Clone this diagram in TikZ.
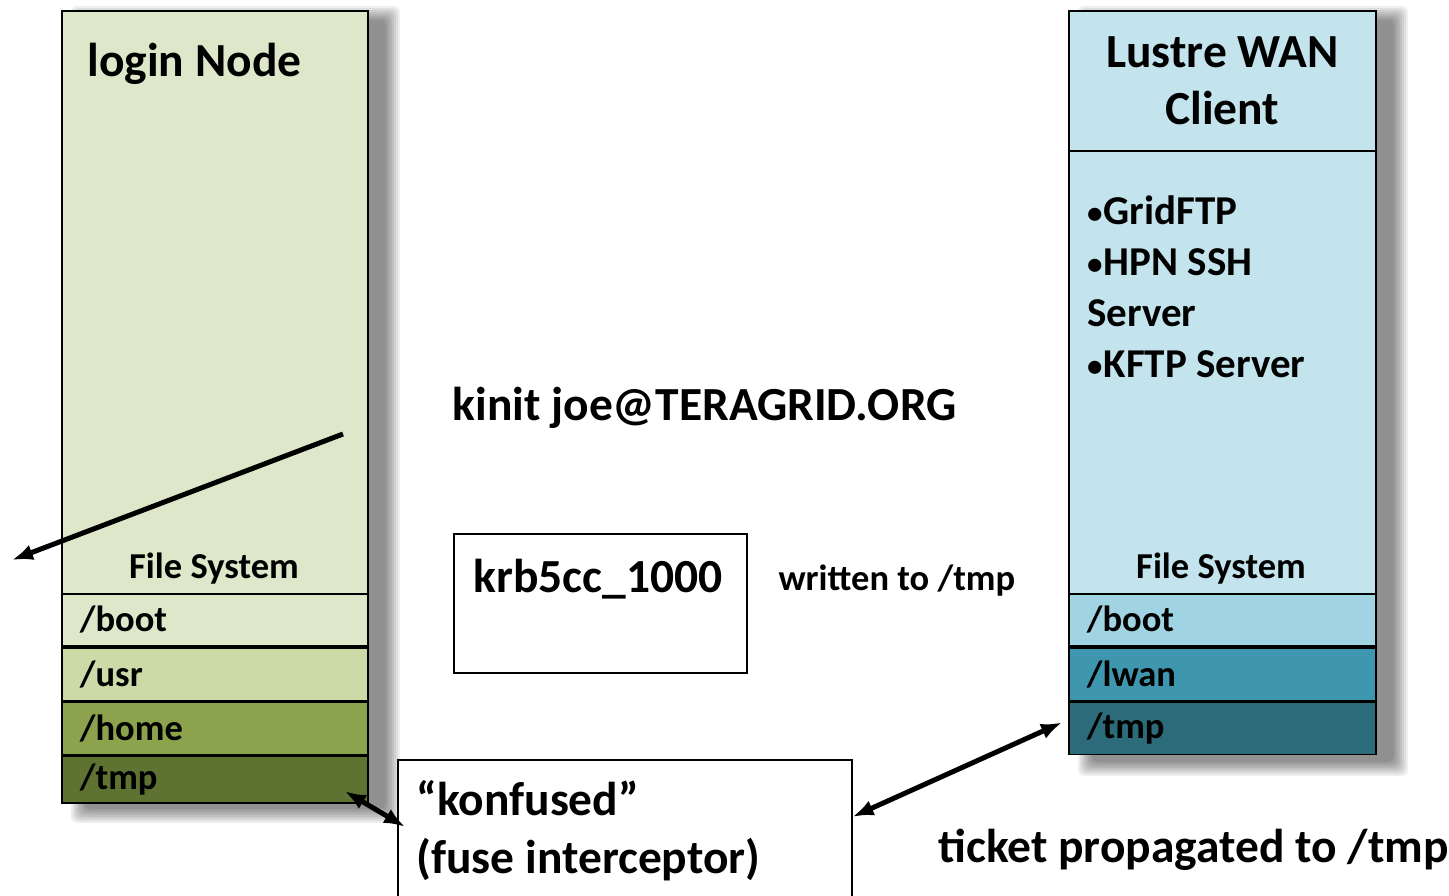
\documentclass[tikz,border=0pt]{standalone}
\usepackage{fontspec}
\setmainfont{Carlito}
\usetikzlibrary{positioning,arrows.meta}

\definecolor{loginbg}{RGB}{222,231,201}
\definecolor{usrgreen}{RGB}{204,218,168}
\definecolor{homegreen}{RGB}{139,163,76}
\definecolor{tmpgreen}{RGB}{94,115,50}
\definecolor{lustrebg}{RGB}{196,228,237}
\definecolor{bootblue}{RGB}{160,212,226}
\definecolor{lwanblue}{RGB}{62,151,174}
\definecolor{tmpblue}{RGB}{43,107,122}

\pgfdeclarelayer{background}
\pgfsetlayers{background,main}

\newcommand\svcdot{\raisebox{1.5pt}{\fontsize{31}{31}\selectfont •}\kern1pt}

\begin{document}
\begin{tikzpicture}[
  x=1pt,y=-1pt,
  bigtext/.style={font=\fontsize{47.5}{57}\selectfont\bfseries},
  listtext/.style={font=\fontsize{41}{51}\selectfont\bfseries},
  smalltext/.style={font=\fontsize{36.5}{44}\selectfont\bfseries},
  column/.style={draw,line width=1.8pt,anchor=north west,inner sep=0pt},
  shade/.style={fill=black,opacity=0.065,rounded corners=6pt},
  fsrow/.style={draw,line width=1.8pt,anchor=north west,text width=270pt,
    inner xsep=18pt,inner ysep=0pt,align=left,smalltext},
  plainbox/.style={draw,line width=1.6pt,anchor=north west,inner sep=0pt,fill=white},
  link/.style={line width=5pt,>={Latex[length=21pt,width=16pt]}}
]
\useasboundingbox (0,0) rectangle (1449,895);

% login node
\node[column,fill=loginbg,minimum width=306pt,minimum height=787pt] (login) at (61,10) {};
\node[bigtext,anchor=base west] (logintitle) at (84,76) {login Node};
\node[smalltext,anchor=base] (loginfs) at (214,578) {File System};
\node[fsrow,fill=loginbg,minimum height=52pt] (lboot) at (61,593) {/boot};
\node[fsrow,fill=usrgreen,minimum height=53pt,below=0pt of lboot.south west,anchor=north west] (lusr) {/usr};
\node[fsrow,fill=homegreen,minimum height=52pt,below=0pt of lusr.south west,anchor=north west] (lhome) {/home};
\node[fsrow,fill=tmpgreen,minimum height=47pt,below=0pt of lhome.south west,anchor=north west] (ltmp) {/tmp};

% lustre client
\node[column,fill=lustrebg,minimum width=307pt,minimum height=740pt] (lustre) at (1068,10) {};
\node[draw,line width=1.8pt,anchor=north west,minimum width=307pt,minimum height=140pt,
  inner sep=0pt,fill=lustrebg,bigtext,align=center] (lustrehead) at (1068,10) {Lustre WAN\\Client};
\node[listtext,anchor=north west,align=left,inner sep=0pt] (services) at (1087,196)
  {\svcdot GridFTP\\\svcdot HPN SSH\\Server\\\svcdot KFTP Server};
\node[smalltext,anchor=base] (lustrefs) at (1221,578) {File System};
\node[fsrow,fill=bootblue,minimum height=52pt,text width=271pt] (rboot) at (1068,593) {/boot};
\node[fsrow,fill=lwanblue,minimum height=53pt,text width=271pt,below=0pt of rboot.south west,anchor=north west] (rlwan) {/lwan};
\node[fsrow,fill=tmpblue,minimum height=52pt,text width=271pt,below=0pt of rlwan.south west,anchor=north west] (rtmp) {/tmp};

% shadows
\begin{pgfonlayer}{background}
\fill[white] (0,0) rectangle (1449,895);
\foreach \k in {0,...,7}{
  \fill[shade] ([shift={(10+2*\k,-4+2*\k)}]login.north west) rectangle ([shift={(31-2*\k,24-2*\k)}]login.south east);
  \fill[shade] ([shift={(10+2*\k,-4+2*\k)}]lustre.north west) rectangle ([shift={(31-2*\k,24-2*\k)}]lustre.south east);
}
\end{pgfonlayer}

% middle
\node[bigtext,anchor=base west] (kinit) at (449,420) {kinit joe@TERAGRID.ORG};
\node[plainbox,minimum width=293pt,minimum height=139pt] (krb) at (453,533) {};
\node[bigtext,anchor=base west] (krbname) at (470,592) {krb5cc\_1000};
\node[smalltext,anchor=base west] (written) at (775,590) {written to /tmp};
\node[plainbox,minimum width=454pt,minimum height=140pt] (konf) at (397,759) {};
\node[bigtext,anchor=base west] (konftitle) at (413,815) {“konfused”};
\node[bigtext,anchor=base west] (konfnote) at (413,873) {(fuse interceptor)};
\node[bigtext,anchor=base west] (ticket) at (935,862) {ticket propagated to /tmp};

% arrows
\coordinate (fsin) at (343,434);
\coordinate (fsout) at (12,560);
\draw[link,->] (fsin) -- (fsout);
\draw[link,<->] ([shift={(-24,-13)}]ltmp.south east) -- ([shift={(8,-3)}]konf.west);
\draw[link,<->] ([yshift=13pt]konf.east) -- ([shift={(-6,-6)}]rtmp.west);

\end{tikzpicture}
\end{document}
